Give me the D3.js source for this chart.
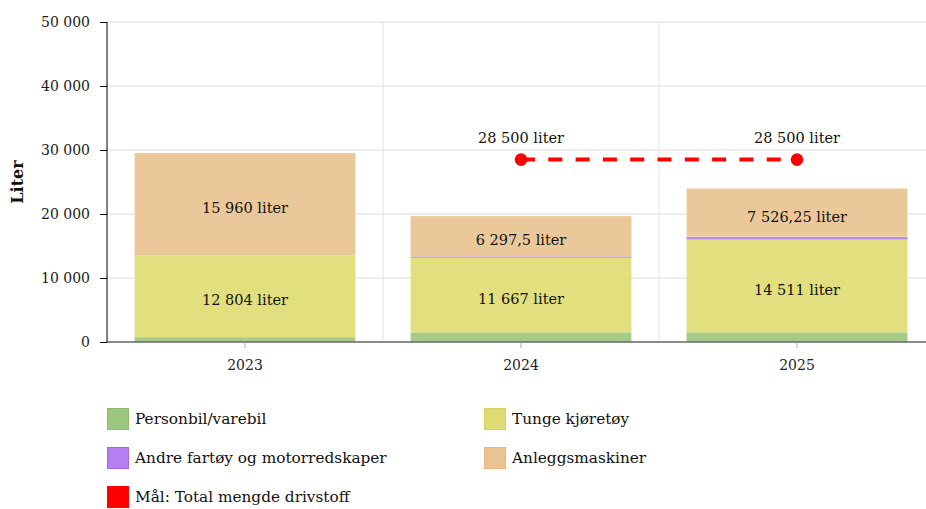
<!DOCTYPE html>
<html>
<head>
<meta charset="utf-8">
<script src="https://cdn.jsdelivr.net/npm/d3@7"></script>
<style>
body { margin: 0; background: #fff; }
svg { display: block; font-family: "DejaVu Serif", serif; }
</style>
</head>
<body>
<div class="container"></div>
<script>
const WIDTH = 926;
const HEIGHT = 509;
const LEFT = 107;
const RIGHT = 935;
const TOP = 22;
const BOTTOM = 342;

// data
var years = ['2023', '2024', '2025'];
var personbil = [750, 1500, 1500];
var tunge = [12804, 11667, 14511];
var andre = [0, 200, 450];
var anlegg = [15960, 6297.5, 7526.25];
var targetYears = ['2024', '2025'];
var targetValues = [28500, 28500];
var yTicks = [0, 10000, 20000, 30000, 40000, 50000];

var seriesNames = ['Personbil/varebil', 'Tunge kjøretøy', 'Andre fartøy og motorredskaper', 'Anleggsmaskiner'];
var seriesKeys = ['personbil', 'tunge', 'andre', 'anlegg'];
var fills = ['#9dc67f', '#e0dc74', '#b47ff0', '#e9c391'];
var strokes = ['#8cbc6c', '#d6d25c', '#a468ec', '#e6b77c'];
var labelled = { tunge: true, anlegg: true };

var locale = d3.formatLocale({ decimal: ',', thousands: ' ', grouping: [3], currency: ['', ''] });
var fmtInt = locale.format(',d');
var fmtVal = function(v) {
	var parts = String(v).split('.');
	var s = fmtInt(+parts[0]);
	if (parts[1]) s += ',' + parts[1];
	return s;
};

var rows = years.map(function(y, i) {
	return { year: y, personbil: personbil[i], tunge: tunge[i], andre: andre[i], anlegg: anlegg[i] };
});

var svg = d3.select('.container').append('svg')
	.attr('width', WIDTH)
	.attr('height', HEIGHT);

var xScale = d3.scaleBand()
	.domain(years)
	.range([LEFT, RIGHT])
	.paddingInner(0.2)
	.paddingOuter(0.1);

var yScale = d3.scaleLinear()
	.domain([0, 50000])
	.range([BOTTOM, TOP]);

// grid
svg.append('g')
	.selectAll('line')
	.data(yTicks.slice(1))
	.enter().append('line')
	.attr('x1', LEFT).attr('x2', RIGHT)
	.attr('y1', function(d) { return yScale(d); })
	.attr('y2', function(d) { return yScale(d); })
	.attr('stroke', '#dcdcdc').attr('stroke-width', 1);

var step = xScale.step();
svg.append('g')
	.selectAll('line')
	.data(d3.range(1, years.length))
	.enter().append('line')
	.attr('x1', function(i) { return LEFT + i * step; })
	.attr('x2', function(i) { return LEFT + i * step; })
	.attr('y1', TOP).attr('y2', BOTTOM)
	.attr('stroke', '#e4e4e4').attr('stroke-width', 1);

// stacked bars
var stack = d3.stack().keys(seriesKeys);
var stacked = stack(rows);

var layers = svg.append('g').selectAll('g')
	.data(stacked)
	.enter().append('g');

layers.selectAll('rect')
	.data(function(d) { return d.map(function(p) { p.key = d.key; return p; }); })
	.enter().append('rect')
	.attr('x', function(d) { return xScale(d.data.year); })
	.attr('width', xScale.bandwidth())
	.attr('y', function(d) { return yScale(d[1]); })
	.attr('height', function(d) { return Math.max(0, yScale(d[0]) - yScale(d[1])); })
	.attr('fill', function(d) { return fills[seriesKeys.indexOf(d.key)]; })
	.attr('fill-opacity', 0.92);

// white separator above the small purple segments
layers.filter(function(d) { return d.key === 'andre'; })
	.selectAll('line')
	.data(function(d) { return d.filter(function(p) { return p[1] - p[0] > 300; }); })
	.enter().append('line')
	.attr('x1', function(d) { return xScale(d.data.year); })
	.attr('x2', function(d) { return xScale(d.data.year) + xScale.bandwidth(); })
	.attr('y1', function(d) { return yScale(d[1]) - 0.5; })
	.attr('y2', function(d) { return yScale(d[1]) - 0.5; })
	.attr('stroke', '#fff').attr('stroke-width', 1);

layers.filter(function(d) { return labelled[d.key]; })
	.selectAll('text')
	.data(function(d) { return d; })
	.enter().append('text')
	.attr('x', function(d) { return xScale(d.data.year) + xScale.bandwidth() / 2; })
	.attr('y', function(d) { return (yScale(d[0]) + yScale(d[1])) / 2 + 4; })
	.attr('dy', '0.35em')
	.attr('text-anchor', 'middle')
	.attr('font-size', 14.5)
	.attr('fill', '#111')
	.text(function(d) { return fmtVal(d.data[d.key]) + ' liter'; });

// x axis
var xAxis = svg.append('g')
	.attr('transform', 'translate(0,' + BOTTOM + ')')
	.call(d3.axisBottom(xScale).tickSize(6).tickPadding(12));
xAxis.select('.domain').attr('stroke', '#666').attr('stroke-width', 1.5)
	.attr('d', 'M' + LEFT + ',0H' + RIGHT);
xAxis.selectAll('.tick line').attr('stroke', '#aaa');
xAxis.selectAll('.tick text').attr('font-family', '"DejaVu Serif", serif')
	.attr('font-size', 14).attr('fill', '#222');

// y axis
var yAxis = svg.append('g')
	.attr('transform', 'translate(' + LEFT + ',0)')
	.call(d3.axisLeft(yScale).tickValues(yTicks).tickSize(7).tickPadding(10)
		.tickFormat(function(d) { return fmtInt(d); }));
yAxis.select('.domain').attr('stroke', '#000').attr('d', 'M0,' + TOP + 'V' + BOTTOM);
yAxis.selectAll('.tick line').attr('stroke', '#000');
yAxis.selectAll('.tick text').attr('font-family', '"DejaVu Serif", serif')
	.attr('font-size', 14).attr('fill', '#1a1a1a');

svg.append('text')
	.attr('transform', 'translate(23,' + ((TOP + BOTTOM) / 2) + ') rotate(-90)')
	.attr('text-anchor', 'middle')
	.attr('font-size', 16)
	.attr('font-weight', 'bold')
	.attr('fill', '#111')
	.text('Liter');

// target line
var targetData = targetYears.map(function(y, i) { return { year: y, value: targetValues[i] }; });
var cx = function(d) { return xScale(d.year) + xScale.bandwidth() / 2; };

svg.append('path')
	.datum(targetData)
	.attr('d', d3.line().x(cx).y(function(d) { return yScale(d.value); }))
	.attr('fill', 'none')
	.attr('stroke', '#ff0000')
	.attr('stroke-width', 4)
	.attr('stroke-dasharray', '14 13.3');

svg.append('g').selectAll('circle')
	.data(targetData)
	.enter().append('circle')
	.attr('cx', cx)
	.attr('cy', function(d) { return yScale(d.value); })
	.attr('r', 6.3)
	.attr('fill', '#ff0000');

svg.append('g').selectAll('text')
	.data(targetData)
	.enter().append('text')
	.attr('x', cx)
	.attr('y', function(d) { return yScale(d.value) - 22; })
	.attr('dy', '0.35em')
	.attr('text-anchor', 'middle')
	.attr('font-size', 14.5)
	.attr('fill', '#111')
	.text(function(d) { return fmtInt(d.value) + ' liter'; });

// legend
var legendItems = seriesNames.map(function(n, i) { return { name: n, fill: fills[i], stroke: strokes[i] }; });
legendItems.push({ name: 'Mål: Total mengde drivstoff', fill: '#ff0000', stroke: '#ff0000' });

var legend = svg.append('g').selectAll('g')
	.data(legendItems)
	.enter().append('g')
	.attr('transform', function(d, i) {
		return 'translate(' + (i % 2 === 0 ? 107 : 484) + ',' + (408 + Math.floor(i / 2) * 39) + ')';
	});

legend.append('rect')
	.attr('x', 0.5).attr('y', 0.5)
	.attr('width', 21).attr('height', 21)
	.attr('fill', function(d) { return d.fill; })
	.attr('stroke', function(d) { return d.stroke; });

legend.append('text')
	.attr('x', 28)
	.attr('y', 11)
	.attr('dy', '0.35em')
	.attr('font-size', 15.3)
	.attr('fill', '#111')
	.text(function(d) { return d.name; });
</script>
</body>
</html>
